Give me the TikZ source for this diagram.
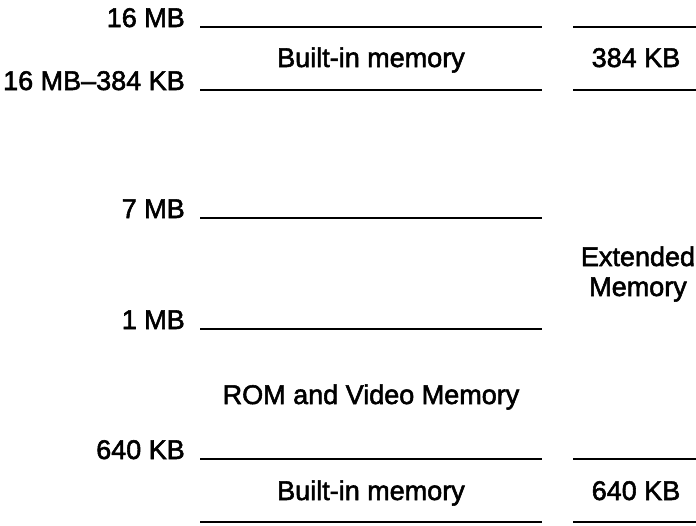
\documentclass[tikz,border=0pt]{standalone}
\usepackage{fontspec}
\setmainfont{Liberation Sans}[BoldFont={Liberation Sans},BoldFeatures={FakeBold=2.0}]
\begin{document}
\begin{tikzpicture}[x=1pt,y=-1pt,
  lbl/.style={font=\fontsize{27}{32}\selectfont\bfseries, inner sep=0pt},
  mline/.style={line width=2.4pt, line cap=butt}]
\useasboundingbox (0,0) rectangle (696,525);
% left labels
\node[lbl, anchor=base east] (a16) at (185,27) {16 MB};
\node[lbl, anchor=base east] (a16m) at (185,90) {16 MB–384 KB};
\node[lbl, anchor=base east] (a7) at (185,218) {7 MB};
\node[lbl, anchor=base east] (a1) at (185,329) {1 MB};
\node[lbl, anchor=base east] (a640) at (185,459) {640 KB};
% main column lines
\foreach \y/\n in {27/m1,90/m2,218/m3,329/m4,459/m5,522/m6}{
  \coordinate (\n L) at (200,\y);
  \coordinate (\n R) at (542,\y);
  \draw[mline] (\n L) -- (\n R);
}
% right column lines
\foreach \y/\n in {27/r1,90/r2,459/r5,522/r6}{
  \coordinate (\n L) at (573,\y);
  \coordinate (\n R) at (696,\y);
  \draw[mline] (\n L) -- (\n R);
}
% texts
\node[lbl, anchor=base] (bt) at (371,67) {Built-in memory};
\node[lbl, anchor=base] (k384) at (636,67) {384 KB};
\node[lbl, anchor=base] (ext) at (638,266) {Extended};
\node[lbl, anchor=base] (mem) at (638,296) {Memory};
\node[lbl, anchor=base] (rom) at (371,404) {ROM and Video Memory};
\node[lbl, anchor=base] (bb) at (371,500) {Built-in memory};
\node[lbl, anchor=base] (k640) at (636,500) {640 KB};
\end{tikzpicture}
\end{document}
